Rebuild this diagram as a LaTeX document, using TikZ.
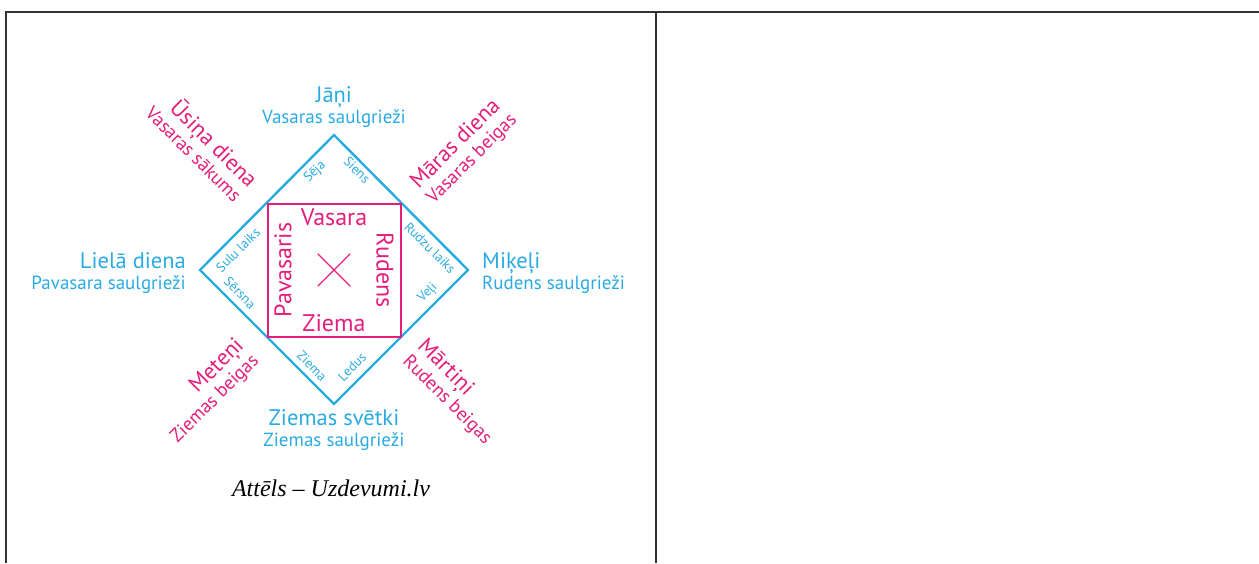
\documentclass[tikz,border=0pt]{standalone}
\usepackage{fontspec}
\setmainfont{Liberation Serif}
\newfontfamily\calfont{PT Sans}
\usetikzlibrary{positioning, shapes.misc}
\definecolor{calblue}{RGB}{41,171,226}
\definecolor{calpink}{RGB}{228,30,122}
\newcommand\bigline{\fontsize{22.5}{21}\selectfont}
\newcommand\smallline{\fontsize{19}{21}\selectfont}
\tikzset{
  tableline/.style={draw=black!80, line width=1.3pt},
  quarters/.style={draw=calblue, line width=2.4pt},
  yearbox/.style={draw=calpink, line width=2pt, minimum size=133pt, inner sep=0pt},
  centremark/.style={cross out, draw=calpink, line width=1.4pt, minimum size=31pt, inner sep=0pt},
  season/.style={text=calpink, inner sep=0pt, font=\calfont\fontsize{24}{26}\selectfont},
  phase/.style={text=calblue, inner sep=0pt, font=\calfont\fontsize{13.5}{15}\selectfont},
  solstice/.style={text=calblue, inner sep=0pt, font=\calfont\smallline},
  feast/.style={text=calpink, inner sep=0pt, font=\calfont\smallline},
  caption/.style={inner sep=0pt, font=\fontsize{24}{28}\selectfont\itshape}
}

\begin{document}
\begin{tikzpicture}[x=1pt, y=-1pt]
    \useasboundingbox (0,0) rectangle (1259,563);
    % table
    \draw[tableline] (6,563) -- (6,12) -- (1259,12);
    \draw[tableline] (656,12) -- (656,563);

    % diamond of the year
    \coordinate (n) at (334,135);
    \coordinate (e) at (468,270);
    \coordinate (s) at (334,404);
    \coordinate (w) at (200,270);
    \draw[quarters] (n) -- (e) -- (s) -- (w) -- cycle;

    \node[yearbox] (year) at (334,270) {};
    \node[centremark] (mid) at (year.center) {};
    \node[season, below=6pt of year.north] (summer) {Vasara};
    \node[season, above=6pt of year.south] (winter) {Ziema};
    \node[season, rotate=90] (spring) at (283,270) {Pavasaris};
    \node[season, rotate=-90] (autumn) at (385,270) {Rudens};

    % phases along the edges
    \node[phase, rotate=45] (seja) at (315,172) {Sēja};
    \node[phase, rotate=-45] (siens) at (357,170) {Siens};
    \node[phase, rotate=45] (sulas) at (238,250) {Sulu laiks};
    \node[phase, rotate=-45] (sersna) at (240,293) {Sērsna};
    \node[phase, rotate=-45] (rudzi) at (430,248) {Rudzu laiks};
    \node[phase, rotate=45] (veli) at (428,293) {Veļi};
    \node[phase, rotate=-45] (ziema) at (312,366) {Ziema};
    \node[phase, rotate=45] (ledus) at (352,367) {Ledus};

    % solstices
    \node[solstice, align=center] (jani) at (334,107) {\bigline Jāņi\\ Vasaras saulgrieži};
    \node[solstice, align=right, anchor=east] (liela) at (186,273) {\bigline Lielā diena\\ Pavasara saulgrieži};
    \node[solstice, align=left, anchor=west] (mikeli) at (482,273) {\bigline Miķeļi\\ Rudens saulgrieži};
    \node[solstice, align=center] (ziemsv) at (334,430) {\bigline Ziemas svētki\\ Ziemas saulgrieži};

    % feasts between them
    \node[feast, align=right, rotate=-45] (usini) at (203,145) {\bigline Ūsiņa diena\\ Vasaras sākums};
    \node[feast, align=left, rotate=45] (mara) at (464,151) {\bigline Māras diena\\ Vasaras beigas};
    \node[feast, align=right, rotate=45] (meteni) at (207,391) {\bigline Meteņi\\ Ziemas beigas};
    \node[feast, align=left, rotate=-45] (martini) at (455,392) {\bigline Mārtiņi\\ Rudens beigas};

    \node[caption] (src) at (331,488) {Attēls – Uzdevumi.lv};
\end{tikzpicture}
\end{document}
